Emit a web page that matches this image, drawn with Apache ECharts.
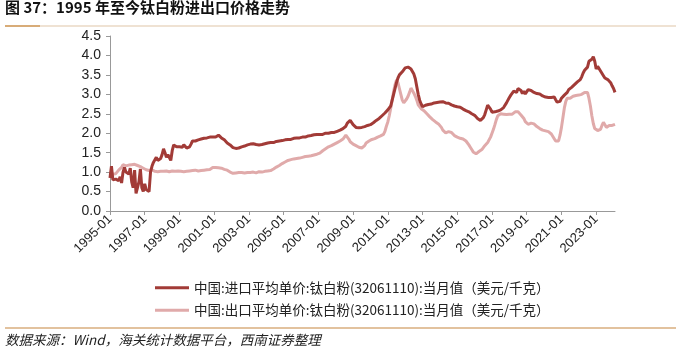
<!DOCTYPE html>
<html>
<head>
<meta charset="utf-8">
<script src="https://cdn.jsdelivr.net/npm/echarts@6/dist/echarts.min.js"></script>
<style>
html,body{margin:0;padding:0;background:#fff;}
#c{width:676px;height:354px;}
</style>
</head>
<body>
<div id="c"></div>
<script>
// Monthly values 1995-01 .. 2024-02 (one row per year)
const importPrice = [
0.85,1.15,0.80,0.75,0.82,0.85,0.78,0.88,0.72,1.00,1.12,1.00,
1.05,0.95,1.10,0.75,0.60,1.05,0.45,0.40,0.75,1.08,0.60,0.50,
0.70,0.55,0.60,0.50,1.00,1.15,1.25,1.20,1.38,1.30,1.25,1.35,
1.45,1.60,1.50,1.38,1.45,1.42,1.30,1.55,1.70,1.66,1.65,1.63,
1.65,1.68,1.64,1.70,1.66,1.62,1.60,1.65,1.72,1.80,1.78,1.80,
1.82,1.83,1.82,1.85,1.84,1.87,1.86,1.88,1.87,1.90,1.88,1.90,
1.89,1.90,1.93,1.95,1.90,1.88,1.85,1.83,1.80,1.75,1.72,1.70,
1.66,1.63,1.62,1.61,1.63,1.62,1.64,1.65,1.66,1.67,1.68,1.70,
1.71,1.72,1.74,1.73,1.72,1.71,1.72,1.70,1.69,1.71,1.72,1.73,
1.74,1.75,1.76,1.76,1.77,1.76,1.78,1.79,1.78,1.80,1.79,1.81,
1.82,1.83,1.82,1.84,1.85,1.84,1.86,1.87,1.86,1.88,1.87,1.88,
1.89,1.90,1.91,1.90,1.92,1.93,1.92,1.94,1.95,1.96,1.95,1.97,
1.96,1.97,1.98,1.97,1.99,2.00,1.99,2.00,2.01,2.02,2.03,2.02,
2.04,2.05,2.06,2.08,2.10,2.12,2.15,2.18,2.26,2.30,2.33,2.28,
2.22,2.18,2.15,2.16,2.14,2.13,2.15,2.14,2.17,2.19,2.20,2.22,
2.22,2.24,2.27,2.30,2.33,2.35,2.38,2.42,2.45,2.48,2.52,2.56,
2.60,2.65,2.70,2.85,3.00,3.15,3.30,3.42,3.50,3.55,3.58,3.62,
3.68,3.72,3.70,3.73,3.65,3.60,3.52,3.40,3.20,3.00,2.85,2.75,
2.68,2.70,2.72,2.73,2.74,2.76,2.75,2.77,2.78,2.77,2.79,2.80,
2.80,2.82,2.81,2.80,2.78,2.80,2.77,2.75,2.73,2.72,2.70,2.71,
2.68,2.66,2.67,2.65,2.62,2.60,2.58,2.57,2.55,2.53,2.50,2.50,
2.46,2.42,2.38,2.35,2.33,2.36,2.40,2.48,2.60,2.72,2.76,2.62,
2.54,2.56,2.55,2.58,2.57,2.56,2.60,2.62,2.66,2.71,2.78,2.85,
2.92,2.98,3.01,3.08,3.12,3.05,3.15,3.18,3.10,3.02,3.08,3.01,
3.05,3.12,3.08,3.10,3.15,3.05,3.08,3.02,3.04,3.01,2.98,2.96,
2.95,2.93,2.95,2.92,2.90,2.92,2.90,2.93,2.86,2.80,2.76,2.82,
2.90,2.95,2.98,3.00,3.05,3.12,3.15,3.18,3.20,3.25,3.28,3.32,
3.35,3.38,3.45,3.55,3.62,3.65,3.70,3.85,3.80,3.90,3.97,3.85,
3.65,3.72,3.74,3.60,3.55,3.48,3.42,3.45,3.38,3.35,3.30,3.22,
3.15,3.05
];
const exportPrice = [
0.92,0.93,0.95,0.97,0.96,1.00,1.05,1.09,1.12,1.19,1.18,1.16,
1.17,1.18,1.20,1.19,1.21,1.20,1.18,1.17,1.16,1.14,1.12,1.10,
1.08,1.06,1.05,1.04,1.05,1.06,1.04,1.02,1.00,1.01,1.00,1.02,
1.01,1.02,1.00,1.03,1.02,1.01,1.02,1.03,1.01,1.02,1.04,1.03,
1.04,1.02,1.03,1.01,1.03,1.02,1.04,1.03,1.02,1.04,1.03,1.05,
1.04,1.03,1.05,1.04,1.06,1.05,1.07,1.06,1.08,1.07,1.10,1.12,
1.15,1.12,1.10,1.11,1.09,1.10,1.08,1.07,1.06,1.05,1.03,1.00,
0.98,0.97,0.99,0.98,1.00,0.99,0.98,0.99,1.00,0.98,1.00,0.99,
1.00,0.99,0.98,1.00,0.99,0.98,1.00,1.01,0.99,1.00,1.01,1.02,
1.02,1.03,1.04,1.04,1.06,1.08,1.10,1.13,1.15,1.17,1.20,1.22,
1.24,1.26,1.28,1.30,1.31,1.32,1.33,1.34,1.35,1.35,1.36,1.36,
1.37,1.38,1.39,1.40,1.41,1.41,1.42,1.42,1.43,1.44,1.45,1.46,
1.47,1.49,1.52,1.55,1.58,1.60,1.63,1.65,1.66,1.68,1.70,1.72,
1.74,1.76,1.78,1.80,1.82,1.85,1.90,1.95,2.00,1.85,1.78,1.74,
1.72,1.70,1.68,1.66,1.64,1.63,1.62,1.62,1.68,1.75,1.80,1.80,
1.82,1.84,1.82,1.86,1.88,1.90,1.91,1.93,1.95,1.97,2.05,2.18,
2.29,2.45,2.64,2.85,3.07,3.25,3.37,3.30,3.15,3.00,2.85,2.78,
2.77,2.88,2.95,3.05,3.16,3.12,3.03,2.95,2.85,2.73,2.68,2.63,
2.60,2.58,2.55,2.50,2.45,2.42,2.38,2.35,2.30,2.29,2.27,2.24,
2.20,2.15,2.08,2.03,2.01,2.02,2.04,2.03,2.02,1.98,1.94,1.92,
1.90,1.89,1.87,1.86,1.85,1.84,1.80,1.75,1.70,1.64,1.58,1.52,
1.48,1.47,1.50,1.53,1.55,1.58,1.62,1.68,1.72,1.76,1.81,1.90,
2.00,2.10,2.22,2.35,2.45,2.49,2.50,2.49,2.49,2.49,2.48,2.49,
2.49,2.50,2.49,2.52,2.55,2.57,2.55,2.50,2.47,2.45,2.38,2.30,
2.25,2.23,2.24,2.26,2.27,2.24,2.20,2.17,2.14,2.12,2.10,2.08,
2.07,2.06,2.05,2.04,2.02,1.98,1.93,1.86,1.80,1.77,1.80,1.95,
2.15,2.40,2.65,2.82,2.90,2.92,2.90,2.93,2.95,2.96,2.97,2.98,
2.98,2.99,3.00,3.02,3.05,3.06,3.05,2.90,2.70,2.45,2.25,2.12,
2.08,2.07,2.06,2.10,2.20,2.28,2.22,2.15,2.16,2.20,2.18,2.20,
2.22,2.23
];
const startYear = 1995;
const months = [];
for (let i = 0; i < importPrice.length; i++) {
  const y = startYear + Math.floor(i / 12);
  const m = (i % 12) + 1;
  months.push(y + '-' + (m < 10 ? '0' + m : m));
}
const seriesNames = [
  '中国:进口平均单价:钛白粉(32061110):当月值（美元/千克）',
  '中国:出口平均单价:钛白粉(32061110):当月值（美元/千克）'
];
const titleText = '图 37：1995 年至今钛白粉进出口价格走势';
const sourceText = '数据来源：Wind，海关统计数据平台，西南证券整理';
const yTicks = [0, 4.5, 0.5];

const chart = echarts.init(document.getElementById('c'), null, {renderer: 'canvas'});
chart.setOption({
  animation: false,
  backgroundColor: '#fff',
  grid: {left: 110, right: 61, top: 36, bottom: 143, containLabel: false},
  xAxis: {
    type: 'category',
    data: months,
    boundaryGap: false,
    axisLine: {lineStyle: {color: '#999', width: 1}},
    axisTick: {show: true, interval: 23, length: 4, lineStyle: {color: '#999'}},
    axisLabel: {
      interval: 23, rotate: 45, fontSize: 13, color: '#222',
      fontFamily: 'Liberation Sans, Arial, sans-serif', margin: 6
    },
    splitLine: {show: false}
  },
  yAxis: {
    type: 'value',
    min: yTicks[0], max: yTicks[1], interval: yTicks[2],
    axisLine: {show: true, lineStyle: {color: '#999', width: 1}},
    axisTick: {show: true, length: 4, lineStyle: {color: '#999'}},
    axisLabel: {
      fontSize: 14, color: '#222', margin: 9,
      fontFamily: 'Liberation Sans, Arial, sans-serif',
      formatter: v => v.toFixed(1)
    },
    splitLine: {show: false}
  },
  legend: {
    orient: 'vertical',
    left: 150, top: 276,
    itemWidth: 34, itemHeight: 3, itemGap: 9,
    icon: 'rect',
    textStyle: {fontSize: 13.5, color: '#222', fontFamily: 'Noto Sans CJK SC, sans-serif'},
    data: seriesNames
  },
  series: [
    {
      name: seriesNames[1], type: 'line', data: exportPrice, symbol: 'none',
      lineStyle: {width: 3, color: '#E0AAAA'}, itemStyle: {color: '#E0AAAA'}, z: 2
    },
    {
      name: seriesNames[0], type: 'line', data: importPrice, symbol: 'none',
      lineStyle: {width: 3, color: '#A23B37'}, itemStyle: {color: '#A23B37'}, z: 3
    }
  ],
  graphic: [
    {type: 'text', left: 5, top: 0, style: {text: titleText, fontSize: 15, fontWeight: 'bold', fill: '#111', fontFamily: 'Noto Sans CJK SC, sans-serif'}},
    {type: 'line', shape: {x1: 5, y1: 26, x2: 676, y2: 26}, style: {stroke: '#EAD9C4', lineWidth: 1.5}},
    {type: 'line', shape: {x1: 5, y1: 26, x2: 40, y2: 26}, style: {stroke: '#D19A5A', lineWidth: 1.5}},
    {type: 'line', shape: {x1: 5, y1: 328, x2: 676, y2: 328}, style: {stroke: '#D8AE7E', lineWidth: 1.5}},
    {type: 'text', left: 5, top: 333, style: {text: sourceText, fontSize: 13.5, fontStyle: 'italic', fill: '#222', fontFamily: 'Noto Sans CJK SC, sans-serif'}}
  ]
});
</script>
</body>
</html>
